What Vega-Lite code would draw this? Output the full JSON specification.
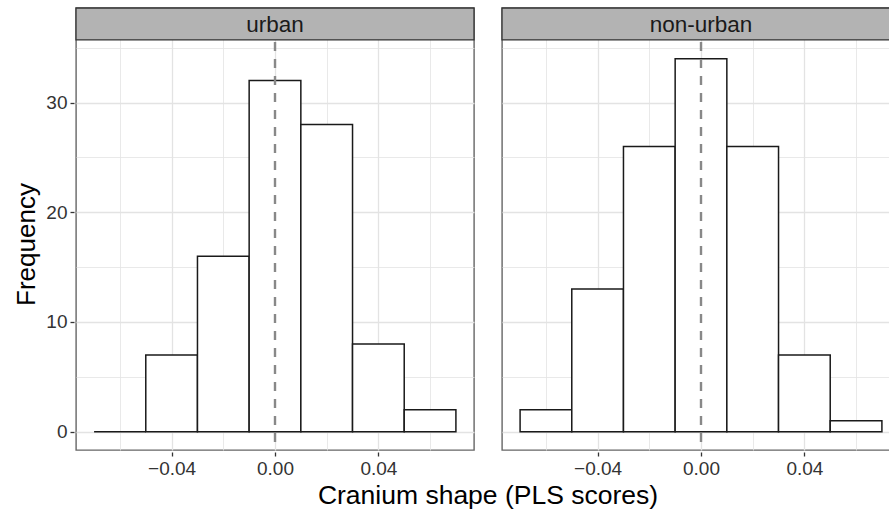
{
  "$schema": "https://vega.github.io/schema/vega-lite/v6.json",
  "padding": {"left": 13, "top": 6, "right": 0, "bottom": 0},
  "data": {
    "values": [
      {"area": "urban", "bin_start": -0.07, "bin_end": -0.05, "count": 0},
      {"area": "urban", "bin_start": -0.05, "bin_end": -0.03, "count": 7},
      {"area": "urban", "bin_start": -0.03, "bin_end": -0.01, "count": 16},
      {"area": "urban", "bin_start": -0.01, "bin_end": 0.01, "count": 32},
      {"area": "urban", "bin_start": 0.01, "bin_end": 0.03, "count": 28},
      {"area": "urban", "bin_start": 0.03, "bin_end": 0.05, "count": 8},
      {"area": "urban", "bin_start": 0.05, "bin_end": 0.07, "count": 2},
      {"area": "non-urban", "bin_start": -0.07, "bin_end": -0.05, "count": 2},
      {"area": "non-urban", "bin_start": -0.05, "bin_end": -0.03, "count": 13},
      {"area": "non-urban", "bin_start": -0.03, "bin_end": -0.01, "count": 26},
      {"area": "non-urban", "bin_start": -0.01, "bin_end": 0.01, "count": 34},
      {"area": "non-urban", "bin_start": 0.01, "bin_end": 0.03, "count": 26},
      {"area": "non-urban", "bin_start": 0.03, "bin_end": 0.05, "count": 7},
      {"area": "non-urban", "bin_start": 0.05, "bin_end": 0.07, "count": 1}
    ]
  },
  "facet": {
    "column": {
      "field": "area",
      "type": "nominal",
      "sort": ["urban", "non-urban"],
      "header": {
        "title": "Cranium shape (PLS scores)",
        "titleOrient": "bottom",
        "titleFontSize": 26.5,
        "titleFontWeight": "normal",
        "titleColor": "black",
        "titlePadding": -5,
        "labels": false
      }
    }
  },
  "spacing": 24,
  "spec": {
    "width": 398,
    "height": 442,
    "layer": [
      {
        "mark": {"type": "rect", "fill": "white", "stroke": "#1a1a1a", "strokeWidth": 1.5},
        "encoding": {
          "x": {
            "field": "bin_start",
            "type": "quantitative",
            "scale": {"domain": [-0.077, 0.077], "nice": false, "zero": false},
            "axis": {
              "title": null,
              "values": [-0.06, -0.04, -0.02, 0, 0.02, 0.04, 0.06],
              "labelExpr": "abs(round(datum.value*100)) % 4 === 0 ? replace(format(datum.value, '.2f'), '-', '\u2212') : ''",
              "tickOpacity": {"condition": {"test": "abs(round(datum.value*100)) % 4 === 0", "value": 1}, "value": 0},
              "gridWidth": {"condition": {"test": "abs(round(datum.value*100)) % 4 === 0", "value": 1.3}, "value": 0.8}
            }
          },
          "x2": {"field": "bin_end"},
          "y": {
            "field": "count",
            "type": "quantitative",
            "scale": {"domain": [-1.67, 38.62], "nice": false, "zero": false},
            "axis": {
              "title": "Frequency",
              "titleY": 236,
              "values": [0, 5, 10, 15, 20, 25, 30, 35],
              "labelExpr": "datum.value % 10 === 0 ? datum.label : ''",
              "tickOpacity": {"condition": {"test": "datum.value % 10 === 0", "value": 1}, "value": 0},
              "gridWidth": {"condition": {"test": "datum.value % 10 === 0", "value": 1.3}, "value": 0.8}
            }
          },
          "y2": {"datum": 0}
        }
      },
      {
        "transform": [{"aggregate": [{"op": "count", "as": "n"}], "groupby": ["area"]}],
        "mark": {"type": "rule", "stroke": "#888888", "strokeWidth": 2.4, "strokeDash": [9, 8]},
        "encoding": {"x": {"datum": 0}}
      },
      {
        "transform": [{"aggregate": [{"op": "count", "as": "n"}], "groupby": ["area"]}],
        "mark": {"type": "rect", "fill": "#b3b3b3", "stroke": "#333333", "strokeWidth": 1.3},
        "encoding": {
          "x": {"datum": -0.077},
          "x2": {"datum": 0.077},
          "y": {"datum": 35.71},
          "y2": {"datum": 38.62}
        }
      },
      {
        "transform": [{"aggregate": [{"op": "count", "as": "n"}], "groupby": ["area"]}],
        "mark": {"type": "text", "fontSize": 22.5, "color": "#1a1a1a", "baseline": "alphabetic", "align": "center"},
        "encoding": {
          "x": {"datum": 0},
          "y": {"datum": 36.45},
          "text": {"field": "area"}
        }
      }
    ]
  },
  "config": {
    "font": "Liberation Sans",
    "view": {"stroke": "#666666", "strokeWidth": 1.4},
    "axis": {
      "domain": false,
      "grid": true,
      "gridColor": "#e3e3e3",
      "tickColor": "#333333",
      "tickSize": 4,
      "tickWidth": 1.3,
      "labelFontSize": 19,
      "labelColor": "#333333",
      "labelPadding": 3,
      "titleFontSize": 26,
      "titleFontWeight": "normal",
      "titleColor": "black",
      "titlePadding": 6
    }
  }
}
